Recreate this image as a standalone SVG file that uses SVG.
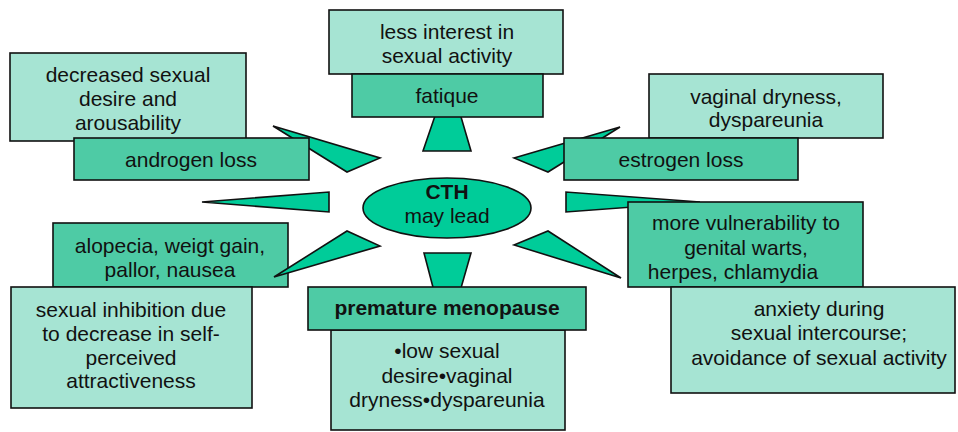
<svg xmlns="http://www.w3.org/2000/svg" width="958" height="432" viewBox="0 0 958 432">
<style>
.light{fill:#a6e4d3;stroke:#111;stroke-width:1.6}
.mid{fill:#4ecba5;stroke:#111;stroke-width:1.6}
.wedge{fill:#00cc99;stroke:#111;stroke-width:1.6;stroke-linejoin:miter}
text{font-family:"Liberation Sans",Arial,sans-serif;font-size:21px;fill:#111;text-anchor:middle}
.b{font-weight:bold}
</style>
<rect width="958" height="432" fill="#fff"/>
<g id="alopecia">
<rect class="mid" x="53" y="223" width="235" height="64"/>
<text x="170" y="253">alopecia, weigt gain,</text>
<text x="170" y="277">pallor, nausea</text>
</g>
<g id="inhibition">
<rect class="light" x="11" y="287" width="241" height="121"/>
<text x="131" y="317">sexual inhibition due</text>
<text x="131" y="341">to decrease in self-</text>
<text x="131" y="365">perceived</text>
<text x="131" y="388">attractiveness</text>
</g>
<g id="connectors">
<polygon class="wedge" points="273,126 380,158 347,172"/>
<polygon class="wedge" points="202,202 329,192 329,212"/>
<polygon class="wedge" points="274,277 347,231 380,246"/>
<polygon class="wedge" points="437,110 459,110 471,151 423,151"/>
<polygon class="wedge" points="424,253 471,253 459,295 435,295"/>
<polygon class="wedge" points="514,158 620,127 548,172"/>
<polygon class="wedge" points="566,192 566,212 700,202"/>
<polygon class="wedge" points="514,245 548,231 621,278"/>
</g>
<g id="decreased">
<rect class="light" x="10" y="53" width="236" height="88"/>
<text x="128" y="82">decreased sexual</text>
<text x="128" y="106">desire and</text>
<text x="128" y="130">arousability</text>
</g>
<g id="androgen">
<rect class="mid" x="74" y="138" width="235" height="42"/>
<text x="191" y="167">androgen loss</text>
</g>
<g id="interest">
<rect class="light" x="329" y="10" width="234" height="64"/>
<text x="447" y="39">less interest in</text>
<text x="447" y="63">sexual activity</text>
</g>
<g id="fatique">
<rect class="mid" x="352" y="74" width="191" height="43"/>
<text x="447" y="103">fatique</text>
</g>
<g id="dryness">
<rect class="light" x="649" y="74" width="234" height="64"/>
<text x="766" y="104">vaginal dryness,</text>
<text x="766" y="127">dyspareunia</text>
</g>
<g id="estrogen">
<rect class="mid" x="564" y="138" width="234" height="42"/>
<text x="681" y="167">estrogen loss</text>
</g>
<g id="cth">
<ellipse cx="447" cy="208" rx="84" ry="30" fill="#00cc99" stroke="#111" stroke-width="1.6"/>
<text class="b" x="447" y="199">CTH</text>
<text x="447" y="223">may lead</text>
</g>
<g id="vulnerability">
<rect class="mid" x="628" y="202" width="235" height="85"/>
<text x="746" y="230">more vulnerability to</text>
<text x="746" y="255">genital warts,</text>
<text x="733" y="279">herpes, chlamydia</text>
</g>
<g id="anxiety">
<rect class="light" x="671" y="287" width="284" height="106"/>
<text x="819" y="316">anxiety during</text>
<text x="819" y="340">sexual intercourse;</text>
<text x="819" y="365">avoidance of sexual activity</text>
</g>
<g id="lowdesire">
<rect class="light" x="331" y="330" width="234" height="100"/>
<text x="447" y="358">•low sexual</text>
<text x="447" y="383">desire•vaginal</text>
<text x="447" y="407">dryness•dyspareunia</text>
</g>
<g id="menopause">
<rect class="mid" x="308" y="287" width="278" height="43"/>
<text class="b" x="447" y="315">premature menopause</text>
</g>
</svg>
